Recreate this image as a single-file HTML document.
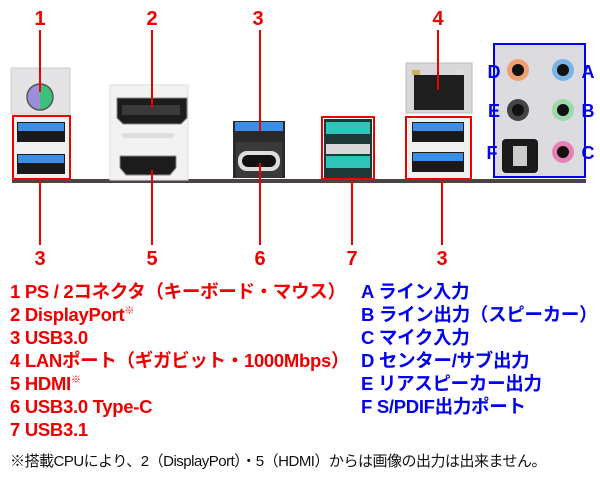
<!DOCTYPE html>
<html><head><meta charset="utf-8"><style>
html,body{margin:0;padding:0;background:#fff;width:600px;height:480px;overflow:hidden}
.t{position:absolute;font-family:"Liberation Sans","Noto Sans CJK JP",sans-serif;font-weight:bold;font-size:18.5px;line-height:23px;white-space:nowrap;letter-spacing:-0.3px}
.r{color:#ee0000}.b{color:#0000ee}
sup{font-size:10px;line-height:0;position:relative;top:-7px;vertical-align:baseline;font-weight:normal}
</style></head><body>
<svg width="600" height="275" style="position:absolute;left:0;top:0" xmlns="http://www.w3.org/2000/svg" font-family="Liberation Sans, sans-serif" font-weight="bold">
<rect x="12" y="179" width="574" height="4" fill="#4a4448"/>
<rect x="11" y="68" width="59" height="46" fill="#e4e4e6" stroke="#ccc"/>
<path d="M40 84 A13 13 0 0 0 40 110 Z" fill="#9a8fd8"/>
<path d="M40 84 A13 13 0 0 1 40 110 Z" fill="#3cc07a"/>
<circle cx="40" cy="97" r="13" fill="none" stroke="#555" stroke-width="1.5"/>
<rect x="14" y="117" width="54" height="62" fill="#f0f0f0"/>
<rect x="17" y="122" width="48" height="20" fill="#1a1a1a"/><rect x="18" y="123" width="46" height="8" fill="#3a8ee8"/>
<rect x="17" y="154" width="48" height="20" fill="#1a1a1a"/><rect x="18" y="155" width="46" height="8" fill="#3a8ee8"/>
<rect x="110" y="85" width="78" height="95" fill="#f2f2f2" stroke="#ddd"/>
<path d="M117 98 h70 v20 l-6 6 h-58 l-6 -6 z" fill="#1c1c1c" stroke="#888"/>
<rect x="122" y="105" width="58" height="10" fill="#3a3a3a"/>
<rect x="122" y="133" width="52" height="5" rx="2.5" fill="#ddd"/>
<path d="M120 156 h56 v12 l-6 7 h-44 l-6 -7 z" fill="#1c1c1c" stroke="#888"/>
<rect x="233" y="121" width="52" height="57" fill="#2a2a2a"/>
<rect x="235" y="122" width="48" height="9" fill="#3a8ee8"/>
<rect x="236" y="142" width="46" height="36" fill="#3a3a3a"/>
<rect x="238" y="151" width="42" height="20" rx="9" fill="#ddd"/>
<rect x="242" y="155" width="34" height="12" rx="6" fill="#111"/>
<rect x="324" y="119" width="48" height="60" fill="#1e3a36"/>
<rect x="326" y="122" width="44" height="12" fill="#2fc4b8"/>
<rect x="326" y="144" width="44" height="10" fill="#d8d8d8"/>
<rect x="326" y="156" width="44" height="12" fill="#2fc4b8"/>
<rect x="406" y="63" width="66" height="50" fill="#d8d8da" stroke="#bbb"/>
<rect x="414" y="75" width="50" height="35" fill="#1e1e1e"/>
<rect x="412" y="70" width="8" height="5" fill="#c8b060"/><rect x="456" y="70" width="8" height="5" fill="#ddd"/>
<rect x="408" y="118" width="62" height="61" fill="#f0f0f0"/>
<rect x="412" y="122" width="52" height="20" fill="#1a1a1a"/><rect x="413" y="123" width="50" height="8" fill="#3a8ee8"/>
<rect x="412" y="152" width="52" height="20" fill="#1a1a1a"/><rect x="413" y="153" width="50" height="8" fill="#3a8ee8"/>
<rect x="494" y="44" width="91" height="133" fill="#dcdce0"/>
<circle cx="518" cy="70" r="11" fill="#f0a070"/><circle cx="518" cy="70" r="6" fill="#111"/>
<circle cx="563" cy="70" r="11" fill="#78b4e4"/><circle cx="563" cy="70" r="6" fill="#111"/>
<circle cx="518" cy="110" r="11" fill="#444"/><circle cx="518" cy="110" r="6" fill="#111"/>
<circle cx="563" cy="110" r="11" fill="#9cd8a8"/><circle cx="563" cy="110" r="6" fill="#111"/>
<circle cx="563" cy="152" r="11" fill="#e880b8"/><circle cx="563" cy="152" r="6" fill="#111"/>
<rect x="502" y="139" width="36" height="34" rx="4" fill="#1a1a1a"/><rect x="513" y="146" width="14" height="20" fill="#ccc"/>
<rect x="494" y="44" width="91" height="133" fill="none" stroke="#0000ee" stroke-width="2"/>
<g fill="#0000ee" font-size="18" text-anchor="middle">
<text x="494" y="78">D</text><text x="588" y="78">A</text>
<text x="494" y="117">E</text><text x="588" y="117">B</text>
<text x="492" y="159">F</text><text x="588" y="159">C</text>
</g>
<g stroke="#ee0000" stroke-width="2" fill="none">
<rect x="13" y="116" width="57" height="63"/>
<rect x="322" y="117" width="52" height="62"/>
<rect x="406" y="117" width="65" height="62"/>
<path d="M40 30V92 M152 30V108 M260 30V131 M438 30V90 M40 180V245 M152 170V245 M260 163V245 M352 180V245 M442 180V245"/>
</g>
<g fill="#ee0000" font-size="20" text-anchor="middle">
<text x="40" y="25">1</text><text x="152" y="25">2</text><text x="258" y="25">3</text><text x="438" y="25">4</text>
<text x="40" y="265">3</text><text x="152" y="265">5</text><text x="260" y="265">6</text><text x="352" y="265">7</text><text x="442" y="265">3</text>
</g>
</svg>
<div class="t r" style="left:10px;top:280px">1 PS / 2コネクタ（キーボード・マウス）<br>2 DisplayPort<sup>※</sup><br>3 USB3.0<br>4 LANポート（ギガビット・1000Mbps）<br>5 HDMI<sup>※</sup><br>6 USB3.0 Type-C<br>7 USB3.1</div>
<div class="t b" style="left:361px;top:280px">A ライン入力<br>B ライン出力（スピーカー）<br>C マイク入力<br>D センター/サブ出力<br>E リアスピーカー出力<br>F S/PDIF出力ポート</div>
<div class="t" style="left:10px;top:450px;font-size:15px;font-weight:normal;color:#111;letter-spacing:-0.5px">※搭載CPUにより、2（DisplayPort）・5（HDMI）からは画像の出力は出来ません。</div>
</body></html>
